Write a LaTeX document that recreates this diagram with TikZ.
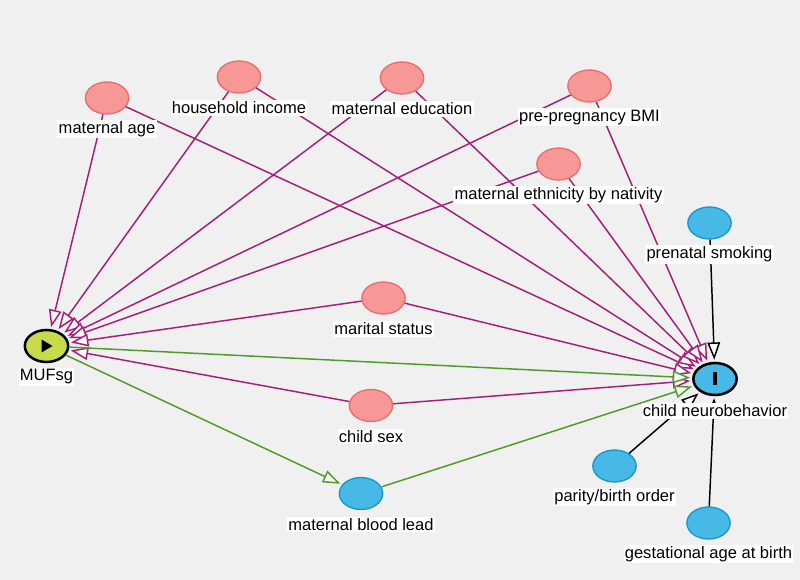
\documentclass[tikz,border=0pt]{standalone}
\usepackage{fontspec}
\setmainfont{Liberation Sans}
\usetikzlibrary{arrows.meta,shapes.geometric,calc}
\definecolor{bg}{RGB}{240,240,240}
\definecolor{pinkfill}{RGB}{248,152,150}
\definecolor{pinkdraw}{RGB}{232,110,110}
\definecolor{bluefill}{RGB}{70,185,230}
\definecolor{bluedraw}{RGB}{25,150,205}
\definecolor{expfill}{RGB}{200,220,75}
\definecolor{biasc}{RGB}{165,30,120}
\definecolor{causc}{RGB}{80,155,40}
\begin{document}
\begin{tikzpicture}[x=0.75pt,y=-0.75pt,
 var/.style={ellipse,minimum width=32.5pt,minimum height=24pt,inner sep=0pt,line width=1pt},
 conf/.style={var,fill=pinkfill,draw=pinkdraw},
 anc/.style={var,fill=bluefill,draw=bluedraw},
 keyvar/.style={var,draw=black,line width=1.9pt},
 lab/.style={fill=white,inner xsep=1pt,inner ysep=1.2pt,font=\fontsize{12.4}{14}\selectfont},
 edge/.style={line width=1.1pt,shorten >=1.5pt,-{Triangle[length=13pt,width=9.5pt,fill=white]}},
 bias/.style={edge,draw=biasc},
 caus/.style={edge,draw=causc},
 plain/.style={edge,draw=black}]
\fill[bg] (0,0) rectangle (800,580);
\useasboundingbox (0,0) rectangle (800,580);

% variables
\node[conf] (ma) at (107,98) {};
\node[conf] (hi) at (239,77) {};
\node[conf] (me) at (402,78) {};
\node[conf] (bmi) at (589.5,86) {};
\node[conf] (eth) at (558.5,164) {};
\node[anc] (ps) at (709.5,223) {};
\node[conf] (ms) at (383.5,298) {};
\node[conf] (cs) at (371,405.5) {};
\node[anc] (bl) at (361,493.5) {};
\node[anc] (po) at (614.5,466) {};
\node[anc] (ga) at (708.5,523) {};
\node[keyvar,fill=expfill] (mu) at (46.5,346) {};
\node[keyvar,fill=bluefill] (cn) at (715,379) {};

% symbols inside exposure / outcome
\fill[black] ($(mu)+(-5,-6.5)$) -- ($(mu)+(6,0)$) -- ($(mu)+(-5,6.5)$) -- cycle;
\fill[black] ($(cn)+(-1.6,-6.5)$) rectangle ($(cn)+(1.6,6.5)$);

% biasing edges
\foreach \c in {ma,hi,me,bmi,eth,ms,cs}{
  \draw[bias] (\c) -- (mu);
  \draw[bias] (\c) -- (cn);
}
% causal edges
\draw[caus] (mu) -- (cn);
\draw[caus] (mu) -- (bl);
\draw[caus] (bl) -- (cn);
% other edges
\draw[plain] (ps) -- (cn);
\draw[plain] (po) -- (cn);
\draw[plain] (ga) -- (cn);

% labels
\node[lab] (maL) at ($(ma)+(0,31)$) {maternal age};
\node[lab] (hiL) at ($(hi)+(0,31)$) {household income};
\node[lab] (meL) at ($(me)+(0,31)$) {maternal education};
\node[lab] (bmiL) at ($(bmi)+(0,31.5)$) {pre-pregnancy BMI};
\node[lab] (ethL) at ($(eth)+(0,31)$) {maternal ethnicity by nativity};
\node[lab] (psL) at ($(ps)+(0,31.5)$) {prenatal smoking};
\node[lab] (msL) at ($(ms)+(0,31)$) {marital status};
\node[lab] (csL) at ($(cs)+(0,31)$) {child sex};
\node[lab] (blL) at ($(bl)+(0,31)$) {maternal blood lead};
\node[lab] (poL) at ($(po)+(0,31)$) {parity/birth order};
\node[lab] (gaL) at ($(ga)+(0,31)$) {gestational age at birth};
\node[lab] (muL) at ($(mu)+(0,31)$) {MUFsg};
\node[lab] (cnL) at ($(cn)+(0,32)$) {child neurobehavior};
\end{tikzpicture}
\end{document}
